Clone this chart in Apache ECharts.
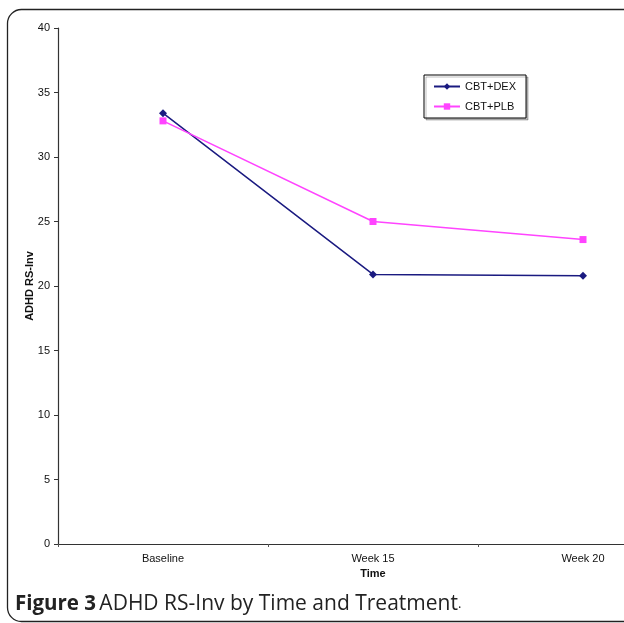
<!DOCTYPE html>
<html>
<head>
<meta charset="utf-8">
<script src="https://cdn.jsdelivr.net/npm/echarts@6/dist/echarts.min.js"></script>
<style>html,body{margin:0;padding:0;background:#fff}#c{width:624px;height:623px}</style>
</head>
<body>
<div id="c"></div>
<script>
const categories = ['Baseline', 'Week 15', 'Week 20'];
const dexValues = [33.4, 20.9, 20.8];
const plbValues = [32.8, 25.0, 23.6];
const seriesNames = ['CBT+DEX', 'CBT+PLB'];

const chart = echarts.init(document.getElementById('c'));
const axisFont = { fontFamily: 'Liberation Sans, Arial, sans-serif', fontSize: 11, color: '#111' };
chart.setOption({
  animation: false,
  backgroundColor: '#fff',
  graphic: [
    { type: 'rect', left: 5, top: 7, shape: { width: 660, height: 612, r: 14 },
      style: { fill: 'none', stroke: '#222', lineWidth: 1.3 }, z: 0 },
    { type: 'text', left: 15, top: 594, z: 10,
      style: {
        text: '{b|Figure 3} {n|ADHD RS-Inv by Time and Treatment}{s|.}',
        rich: {
          b: { fontFamily: 'Open Sans, sans-serif', fontWeight: 'bold', fontSize: 20.5, fill: '#222' },
          n: { fontFamily: 'Open Sans, sans-serif', fontSize: 21, fill: '#222' },
          s: { fontFamily: 'Open Sans, sans-serif', fontSize: 13, fill: '#222' }
        }
      } }
  ],
  legend: {
    orient: 'vertical', left: 424, top: 75,
    data: seriesNames,
    borderColor: '#000', borderWidth: 1, padding: [6, 10, 6, 9],
    itemWidth: 26, itemHeight: 8, itemGap: 9,
    textStyle: { fontFamily: 'Liberation Sans, Arial, sans-serif', fontSize: 11, color: '#111' },
    backgroundColor: '#fff',
    shadowColor: 'rgba(0,0,0,0.25)', shadowOffsetX: 2, shadowOffsetY: 2, shadowBlur: 0
  },
  grid: { left: 58, top: 28, bottom: 79, width: 630, outerBoundsMode: 'none', containLabel: false },
  xAxis: {
    type: 'category', data: categories, boundaryGap: true,
    name: 'Time', nameLocation: 'middle', nameGap: 24, nameMoveOverlap: false,
    nameTextStyle: { fontFamily: 'Liberation Sans, Arial, sans-serif', fontSize: 11, fontWeight: 'bold', color: '#111' },
    axisLine: { lineStyle: { color: '#333', width: 1.2 } },
    axisTick: { show: true, length: 3, lineStyle: { color: '#555' } },
    axisLabel: Object.assign({ margin: 9 }, axisFont),
    splitLine: { show: false }
  },
  yAxis: {
    type: 'value', min: 0, max: 40, interval: 5,
    name: 'ADHD RS-Inv', nameLocation: 'middle', nameGap: 23, nameMoveOverlap: false,
    nameTextStyle: { fontFamily: 'Liberation Sans, Arial, sans-serif', fontSize: 11, fontWeight: 'bold', color: '#111' },
    axisLine: { show: true, lineStyle: { color: '#333', width: 1.2 } },
    axisTick: { show: true, length: 4, lineStyle: { color: '#333' } },
    axisLabel: Object.assign({ margin: 8 }, axisFont),
    splitLine: { show: false }
  },
  series: [
    { name: seriesNames[0], type: 'line', data: dexValues,
      symbol: 'diamond', symbolSize: 8,
      lineStyle: { color: '#1a1a80', width: 1.5 },
      itemStyle: { color: '#1a1a80' } },
    { name: seriesNames[1], type: 'line', data: plbValues,
      symbol: 'rect', symbolSize: 7,
      lineStyle: { color: '#ff44ff', width: 1.5 },
      itemStyle: { color: '#ff44ff' } }
  ]
});
</script>
</body>
</html>
